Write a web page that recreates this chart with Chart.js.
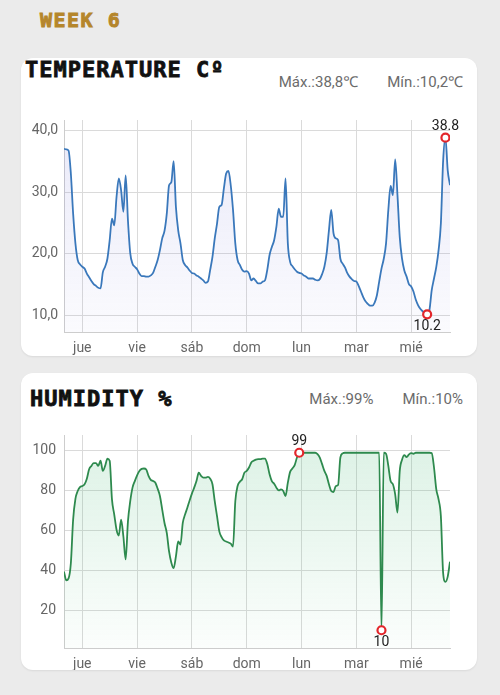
<!DOCTYPE html>
<html>
<head>
<meta charset="utf-8">
<script src="https://cdn.jsdelivr.net/npm/chart.js@4.4.1/dist/chart.umd.min.js"></script>
<style>
  body { margin: 0; width: 500px; height: 695px; background: #ebebeb; position: relative; overflow: hidden; font-family: Roboto, "Noto Sans", sans-serif; }
  .week { position: absolute; left: 40px; top: 10px; font: bold 20px/20px "DejaVu Sans Mono", monospace; letter-spacing: 1.5px; color: #b5862b; -webkit-text-stroke: 0.9px #b5862b; }
  .card { position: absolute; left: 21px; width: 456px; background: #fff; border-radius: 12px; box-shadow: 0 1px 2px rgba(0,0,0,0.08); }
  .title { position: absolute; font: bold 22px/22px "DejaVu Sans Mono", monospace; letter-spacing: 1px; color: #111; -webkit-text-stroke: 0.8px #111; }
  .stats { position: absolute; right: 37px; display: flex; gap: 29px; font-size: 15px; line-height: 15px; color: #6b6b6b; }
  canvas { position: absolute; }
</style>
</head>
<body>
<div class="week">WEEK 6</div>

<div class="card" style="top:58px;height:298px"></div>
<div class="title" style="left:25px;top:59px">TEMPERATURE Cº</div>
<div class="stats" style="top:75px"><span id="tempMax"></span><span id="tempMin"></span></div>
<canvas id="tempChart" width="450" height="243" style="left:22px;top:112px"></canvas>

<div class="card" style="top:373px;height:297px"></div>
<div class="title" style="left:30px;top:388px">HUMIDITY %</div>
<div class="stats" style="top:392px"><span id="humMax"></span><span id="humMin"></span></div>
<canvas id="humChart" width="450" height="243" style="left:22px;top:427px"></canvas>

<script>
// one reading per hour, first one at 16:00 the day before "jue"
const startHour = -8;
const dayLabels = ['jue', 'vie', 'sáb', 'dom', 'lun', 'mar', 'mié'];
const dayTicks = [0, 24, 48, 72, 96, 120, 144];
const tempTicks = [10, 20, 30, 40];
const humTicks = [20, 40, 60, 80, 100];

const temperature = [
  37.0, 36.9, 36.7, 33.0, 26.5, 21.7, 19.0, 18.3, 17.9, 17.6,
  16.8, 16.2, 15.6, 15.1, 14.8, 14.5, 14.4, 17.0, 17.9, 19.2,
  22.2, 25.7, 24.6, 29.2, 32.2, 30.3, 26.8, 32.7, 25.4, 20.1,
  18.4, 17.9, 17.5, 16.8, 16.4, 16.4, 16.3, 16.3, 16.5, 16.9,
  17.9, 19.0, 20.6, 22.5, 23.7, 26.5, 31.1, 31.6, 35.0, 27.6,
  23.8, 21.7, 19.0, 18.2, 17.8, 17.3, 16.9, 16.8, 16.5, 16.3,
  16.0, 15.7, 15.3, 15.5, 17.4, 19.5, 22.5, 24.9, 27.6, 27.9,
  30.6, 33.0, 33.4, 31.1, 27.1, 21.7, 19.0, 18.2, 17.4, 17.1,
  17.2, 16.8, 15.7, 16.0, 15.6, 15.2, 15.2, 15.5, 15.7, 17.4,
  19.8, 21.1, 22.2, 24.4, 27.3, 26.0, 26.0, 32.2, 21.7, 18.7,
  18.0, 17.5, 17.1, 16.9, 16.8, 16.5, 16.3, 16.0, 16.0, 16.0,
  15.8, 15.7, 15.9, 16.7, 17.9, 20.1, 23.8, 27.1, 23.3, 22.5,
  22.2, 19.2, 18.4, 17.8, 16.9, 16.3, 15.9, 15.6, 15.5, 14.8,
  13.9, 13.0, 12.3, 11.9, 11.6, 11.6, 12.1, 13.3, 15.5, 17.6,
  19.2, 21.7, 27.1, 31.0, 29.5, 35.3, 29.5, 22.7, 19.2, 17.3,
  16.3, 15.1, 14.7, 13.9, 12.6, 11.7, 11.1, 10.7, 10.4, 10.2,
  10.9, 14.1, 16.0, 17.9, 20.6, 24.9, 35.1, 38.8, 33.5, 31.1
];

const humidity = [
  39.4, 35.0, 36.0, 43.6, 65.5, 75.9, 79.8, 81.8, 82.3, 83.2,
  86.0, 90.7, 92.4, 93.8, 93.8, 92.4, 95.0, 89.9, 92.4, 96.0,
  95.0, 75.6, 68.0, 60.4, 57.5, 65.5, 57.0, 45.5, 64.6, 74.7,
  81.5, 84.8, 87.7, 89.9, 90.9, 91.1, 90.6, 87.4, 85.4, 84.8,
  84.0, 81.0, 77.3, 70.5, 63.8, 58.8, 49.5, 43.9, 41.1, 47.0,
  54.5, 53.0, 63.8, 68.0, 71.4, 75.1, 78.5, 81.5, 84.8, 89.0,
  87.4, 86.5, 86.5, 86.9, 86.0, 83.2, 74.7, 67.2, 59.6, 56.7,
  55.1, 54.5, 54.0, 53.4, 52.0, 74.7, 82.3, 84.5, 85.7, 89.0,
  89.9, 91.6, 94.1, 95.0, 95.6, 95.8, 95.8, 96.1, 96.0, 93.3,
  88.2, 84.8, 83.5, 81.5, 80.1, 80.6, 79.8, 77.3, 84.0, 89.4,
  91.1, 92.8, 96.6, 99, 99, 99, 99, 99, 99, 99,
  99, 98.3, 96.6, 93.3, 89.9, 87.4, 83.2, 79.8, 79.3, 82.3,
  82.8, 96.6, 98.7, 99, 99, 99, 99, 99, 99, 99,
  99, 99, 99, 99, 99, 99, 99, 99, 99, 10,
  99, 98.5, 92.4, 84.8, 83.2, 78.1, 69.0, 89.9, 95.5, 97.8,
  96.8, 98.1, 98.8, 98.5, 99, 99, 99, 99, 99, 99,
  99, 98.8, 91.6, 80.6, 75.6, 67.2, 38.6, 34.3, 36.9, 44.4
];

// header texts
const comma = v => String(v).replace('.', ',');
document.getElementById('tempMax').textContent = 'Máx.:' + comma(Math.max(...temperature)) + '℃';
document.getElementById('tempMin').textContent = 'Mín.:' + comma(Math.min(...temperature)) + '℃';
document.getElementById('humMax').textContent = 'Máx.:' + Math.max(...humidity) + '%';
document.getElementById('humMin').textContent = 'Mín.:' + Math.min(...humidity) + '%';

// writes the value next to the max / min marker
const extremaLabels = {
  id: 'extremaLabels',
  afterDatasetsDraw(chart, args, opts) {
    const meta = chart.getDatasetMeta(0);
    const values = chart.data.datasets[0].data;
    const ctx = chart.ctx;
    ctx.save();
    ctx.font = '14px Roboto';
    ctx.fillStyle = '#222';
    ctx.textAlign = 'center';
    ctx.textBaseline = 'alphabetic';
    const top = meta.data[opts.maxIdx];
    ctx.fillText(String(values[opts.maxIdx].y), top.x, top.y - 8);
    const bottom = meta.data[opts.minIdx];
    ctx.fillText(String(values[opts.minIdx].y), bottom.x, bottom.y + 16);
    ctx.restore();
  }
};

function makeChart(canvasId, values, lineColor, fillTop, fillBottom, yTicks, yFormat, yPad, xHeight) {
  const lo = Math.min(...values), hi = Math.max(...values);
  const pad = (hi - lo) * 0.1;
  const maxIdx = values.indexOf(hi);
  const minIdx = values.indexOf(lo);
  const points = values.map((v, i) => ({ x: startHour + i, y: v }));

  return new Chart(document.getElementById(canvasId), {
    type: 'line',
    data: {
      datasets: [{
        data: points,
        borderColor: lineColor,
        borderWidth: 1.8,
        cubicInterpolationMode: 'monotone',
        fill: 'start',
        backgroundColor: ctx => {
          const area = ctx.chart.chartArea;
          if (!area) return fillBottom;
          const g = ctx.chart.ctx.createLinearGradient(0, area.top, 0, area.bottom);
          g.addColorStop(0, fillTop);
          g.addColorStop(1, fillBottom);
          return g;
        },
        pointRadius: ctx => (ctx.dataIndex === maxIdx || ctx.dataIndex === minIdx) ? 4 : 0,
        pointHoverRadius: 0,
        pointBackgroundColor: '#fff',
        pointBorderColor: '#e3262b',
        pointBorderWidth: 2.2
      }]
    },
    options: {
      responsive: false,
      animation: false,
      layout: { padding: { top: 8, right: 22, left: 0, bottom: 0 } },
      plugins: {
        legend: { display: false },
        tooltip: { enabled: false },
        extremaLabels: { maxIdx: maxIdx, minIdx: minIdx }
      },
      scales: {
        x: {
          type: 'linear',
          min: startHour,
          max: startHour + values.length - 1,
          afterBuildTicks: axis => { axis.ticks = dayTicks.map(v => ({ value: v })); },
          afterFit: axis => { axis.height = xHeight; axis.paddingLeft = 0; axis.paddingRight = 0; },
          ticks: {
            autoSkip: false,
            maxRotation: 0,
            padding: 8,
            color: '#666',
            font: { family: 'Roboto', size: 14 },
            callback: v => dayLabels[dayTicks.indexOf(v)]
          },
          grid: { color: '#dadada', drawTicks: false },
          border: { color: '#cdcdcd' }
        },
        y: {
          min: lo - pad,
          max: hi + pad,
          afterBuildTicks: axis => { axis.ticks = yTicks.map(v => ({ value: v })); },
          afterFit: axis => { axis.width = 42; axis.paddingTop = 0; axis.paddingBottom = 0; },
          ticks: {
            padding: yPad,
            color: '#666',
            font: { family: 'Roboto', size: 14 },
            callback: yFormat
          },
          grid: { color: '#dadada', drawTicks: false },
          border: { color: '#cdcdcd' }
        }
      }
    },
    plugins: [extremaLabels]
  });
}

makeChart('tempChart', temperature, '#3a78bb', 'rgba(120,120,215,0.16)', 'rgba(120,120,215,0.03)',
  tempTicks, v => v.toFixed(1).replace('.', ','), 6, 23);
makeChart('humChart', humidity, '#2e8a4e', 'rgba(60,180,110,0.18)', 'rgba(60,180,110,0.02)',
  humTicks, v => String(v), 8, 22);
</script>
</body>
</html>
